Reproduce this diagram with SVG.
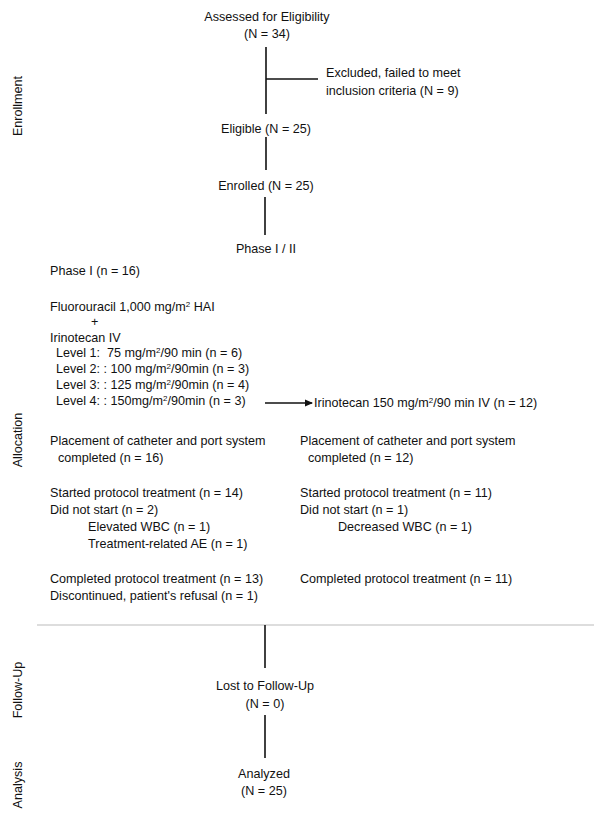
<svg xmlns="http://www.w3.org/2000/svg" width="594" height="818" viewBox="0 0 594 818">
<style>
text{font-family:"Liberation Sans",Arial,sans-serif;font-size:12.6px;fill:#111}
.c{text-anchor:middle}
.ln{stroke:#111;stroke-width:1.6;fill:none}
.sep{stroke:#bbb;stroke-width:1;fill:none}
.sup{font-size:8px}
</style>
<defs>
<marker id="ah" markerWidth="8" markerHeight="8" refX="7" refY="4" orient="auto" markerUnits="userSpaceOnUse">
<path d="M0,0.5 L8,4 L0,7.5 Z" fill="#111"/>
</marker>
</defs>
<rect width="594" height="818" fill="#fff"/>
<g id="phases">
<text class="c" transform="translate(22,106) rotate(-90)">Enrollment</text>
<text class="c" transform="translate(22,440) rotate(-90)">Allocation</text>
<text class="c" transform="translate(22,690) rotate(-90)">Follow-Up</text>
<text class="c" transform="translate(22,785) rotate(-90)">Analysis</text>
</g>
<g id="connectors">
<line class="ln" x1="266" y1="47" x2="266" y2="114"/>
<line class="ln" x1="266" y1="79" x2="318" y2="79"/>
<line class="ln" x1="266" y1="137" x2="266" y2="170"/>
<line class="ln" x1="265" y1="197" x2="265" y2="235"/>
<line class="ln" x1="265" y1="403" x2="312" y2="403" marker-end="url(#ah)"/>
<line class="sep" x1="37" y1="625" x2="594" y2="625"/>
<line class="ln" x1="265" y1="625" x2="265" y2="668"/>
<line class="ln" x1="265" y1="715" x2="265" y2="758"/>
</g>
<g id="assessed"><text class="c" x="267" y="21">Assessed for Eligibility</text><text class="c" x="267" y="38">(N = 34)</text></g>
<g id="excluded"><text x="326" y="77">Excluded, failed to meet</text><text x="326" y="95">inclusion criteria (N = 9)</text></g>
<g id="eligible"><text class="c" x="266" y="133">Eligible (N = 25)</text></g>
<g id="enrolled"><text class="c" x="266" y="190">Enrolled (N = 25)</text></g>
<g id="phase12"><text class="c" x="266" y="253">Phase I / II</text></g>
<g id="phase1">
<text x="50" y="275">Phase I (n = 16)</text>
<text x="50" y="311">Fluorouracil 1,000 mg/m<tspan class="sup" dy="-4">2</tspan><tspan dy="4"> HAI</tspan></text>
<text x="91" y="326">+</text>
<text x="50" y="342">Irinotecan IV</text>
<text x="56" y="357">Level 1:&#160; 75 mg/m<tspan class="sup" dy="-4">2</tspan><tspan dy="4">/90 min (n = 6)</tspan></text>
<text x="56" y="373">Level 2: : 100 mg/m<tspan class="sup" dy="-4">2</tspan><tspan dy="4">/90min (n = 3)</tspan></text>
<text x="56" y="389">Level 3: : 125 mg/m<tspan class="sup" dy="-4">2</tspan><tspan dy="4">/90min (n = 4)</tspan></text>
<text x="56" y="405">Level 4: : 150mg/m<tspan class="sup" dy="-4">2</tspan><tspan dy="4">/90min (n = 3)</tspan></text>
</g>
<g id="phase2"><text x="314" y="407">Irinotecan 150 mg/m<tspan class="sup" dy="-4">2</tspan><tspan dy="4">/90 min IV (n = 12)</tspan></text></g>
<g id="placement1"><text x="50" y="445">Placement of catheter and port system</text><text x="58" y="462">completed (n = 16)</text></g>
<g id="placement2"><text x="300" y="445">Placement of catheter and port system</text><text x="308" y="462">completed (n = 12)</text></g>
<g id="started1">
<text x="50" y="497">Started protocol treatment (n = 14)</text>
<text x="50" y="514">Did not start (n = 2)</text>
<text x="88" y="531">Elevated WBC (n = 1)</text>
<text x="88" y="548">Treatment-related AE (n = 1)</text>
</g>
<g id="started2">
<text x="300" y="497">Started protocol treatment (n = 11)</text>
<text x="300" y="514">Did not start (n = 1)</text>
<text x="338" y="531">Decreased WBC (n = 1)</text>
</g>
<g id="completed1"><text x="50" y="583">Completed protocol treatment (n = 13)</text><text x="50" y="600">Discontinued, patient's refusal (n = 1)</text></g>
<g id="completed2"><text x="300" y="583">Completed protocol treatment (n = 11)</text></g>
<g id="lost"><text class="c" x="265" y="690">Lost to Follow-Up</text><text class="c" x="265" y="708">(N = 0)</text></g>
<g id="analyzed"><text class="c" x="264" y="778">Analyzed</text><text class="c" x="264" y="795">(N = 25)</text></g>
</svg>
